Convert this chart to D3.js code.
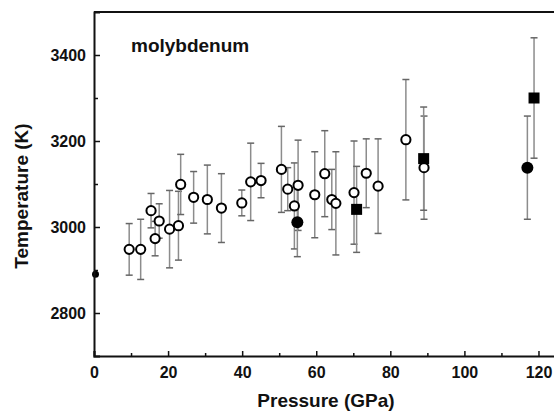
<!DOCTYPE html>
<html lang="en">
<head>
<meta charset="UTF-8">
<title>Molybdenum melting</title>
<script src="https://d3js.org/d3.v7.min.js"></script>
<style>
    body { margin: 0; background: #fff; }
    svg text { font-family: "Liberation Sans", Arial, sans-serif; font-weight: bold; fill: #111; }
    .errbar { stroke: #8c8c8c; stroke-width: 1.5px; }
    .errcap { stroke: #666; stroke-width: 1.5px; }
</style>
</head>
<body>
<svg width="554" height="412"></svg>
<script>
    // open circles
    const openP = [9.5, 12.6, 15.4, 16.5, 17.6, 20.4, 22.8, 23.4, 26.9, 30.6, 34.4, 39.9, 42.3, 45.1,
        50.6, 52.3, 54.1, 55.1, 59.6, 62.3, 64.2, 65.3, 70.2, 73.5, 76.7, 84.2, 89.1];
    const openT = [2948, 2948, 3038, 2973, 3014, 2995, 3003, 3099, 3069, 3064, 3044, 3056, 3105, 3108,
        3134, 3088, 3049, 3097, 3075, 3124, 3064, 3055, 3080, 3125, 3095, 3203, 3138];
    const openErr = [60, 70, 40, 40, 40, 90, 80, 70, 60, 80, 80, 30, 90, 40,
        100, 50, 100, 105, 100, 100, 70, 120, 120, 80, 110, 140, 120];

    // filled circles
    const dotP = [0, 54.9, 117.0];
    const dotT = [2890, 3011, 3138];
    const dotErr = [0, 80, 120];

    // filled squares
    const sqP = [70.9, 89.0, 118.8];
    const sqT = [3041, 3159, 3300];
    const sqErr = [100, 120, 140];

    const xTicks = [0, 20, 40, 60, 80, 100, 120];
    const yTicks = [2800, 3000, 3200, 3400];

    const svg = d3.select("svg");
    const mLeft = 94, mTop = 12, mRight = 557, mBottom = 356;

    const x = d3.scaleLinear().domain([0, 125]).range([mLeft, mRight]);
    const y = d3.scaleLinear().domain([2700, 3500]).range([mBottom, mTop]);

    const pts = [];
    openP.forEach((p, i) => pts.push({ p: p, t: openT[i], e: openErr[i], kind: "open" }));
    dotP.forEach((p, i) => pts.push({ p: p, t: dotT[i], e: dotErr[i], kind: "dot" }));
    sqP.forEach((p, i) => pts.push({ p: p, t: sqT[i], e: sqErr[i], kind: "sq" }));

    const g = svg.append("g");

    // error bars
    const eb = g.selectAll(".eb").data(pts.filter(d => d.e > 0)).enter().append("g");
    eb.append("line").attr("class", "errbar")
        .attr("x1", d => x(d.p)).attr("x2", d => x(d.p))
        .attr("y1", d => y(d.t + d.e)).attr("y2", d => y(d.t - d.e));
    eb.append("line").attr("class", "errcap")
        .attr("x1", d => x(d.p) - 3.5).attr("x2", d => x(d.p) + 3.5)
        .attr("y1", d => y(d.t + d.e)).attr("y2", d => y(d.t + d.e));
    eb.append("line").attr("class", "errcap")
        .attr("x1", d => x(d.p) - 3.5).attr("x2", d => x(d.p) + 3.5)
        .attr("y1", d => y(d.t - d.e)).attr("y2", d => y(d.t - d.e));

    // markers
    g.selectAll(".open").data(pts.filter(d => d.kind === "open")).enter()
        .append("circle")
        .attr("cx", d => x(d.p)).attr("cy", d => y(d.t)).attr("r", 4.6)
        .attr("fill", "#fff").attr("stroke", "#000").attr("stroke-width", 2);

    // the point sitting on the y axis is mostly hidden behind it
    g.selectAll(".dot").data(pts.filter(d => d.kind === "dot")).enter()
        .append("circle")
        .attr("cx", d => x(d.p) + (d.p === 0 ? 1.5 : 0)).attr("cy", d => y(d.t))
        .attr("r", d => d.p === 0 ? 3.5 : 6)
        .attr("fill", "#000");

    g.selectAll(".sq").data(pts.filter(d => d.kind === "sq")).enter()
        .append("rect")
        .attr("x", d => x(d.p) - 5.5).attr("y", d => y(d.t) - 5.5)
        .attr("width", 11).attr("height", 11)
        .attr("fill", "#000");

    // axes
    const xAxis = svg.append("g").attr("transform", `translate(0,${mBottom})`)
        .call(d3.axisBottom(x).tickValues(xTicks).tickSize(-5).tickPadding(12).tickFormat(d3.format("d")));
    svg.append("g").attr("transform", `translate(0,${mBottom})`)
        .call(d3.axisBottom(x).tickValues(d3.range(10, 125, 20)).tickSize(-3).tickFormat(""))
        .call(a => a.select(".domain").remove());

    const yAxis = svg.append("g").attr("transform", `translate(${mLeft},0)`)
        .call(d3.axisLeft(y).tickValues(yTicks).tickSize(-6).tickPadding(8).tickFormat(d3.format("d")));
    svg.append("g").attr("transform", `translate(${mLeft},0)`)
        .call(d3.axisLeft(y).tickValues([2900, 3100, 3300]).tickSize(-4).tickFormat(""))
        .call(a => a.select(".domain").remove());

    svg.selectAll(".domain").attr("stroke", "#111").attr("stroke-width", 2);
    svg.selectAll(".tick line").attr("stroke", "#111").attr("stroke-width", 1.5);
    svg.selectAll(".tick text").attr("font-size", 16).attr("font-family", null);
    xAxis.selectAll(".tick text").attr("dy", "0.6em");

    // top border
    svg.append("line").attr("x1", mLeft).attr("x2", mRight)
        .attr("y1", mTop).attr("y2", mTop)
        .attr("stroke", "#111").attr("stroke-width", 2);

    // labels
    svg.append("text").attr("x", 131).attr("y", 52)
        .attr("font-size", 19).text("molybdenum");

    svg.append("text").attr("x", (mLeft + 554) / 2 + 2).attr("y", 407)
        .attr("text-anchor", "middle").attr("font-size", 19).text("Pressure (GPa)");

    svg.append("text")
        .attr("transform", "translate(28,196) rotate(-90)")
        .attr("text-anchor", "middle").attr("font-size", 19).text("Temperature (K)");
</script>
</body>
</html>
